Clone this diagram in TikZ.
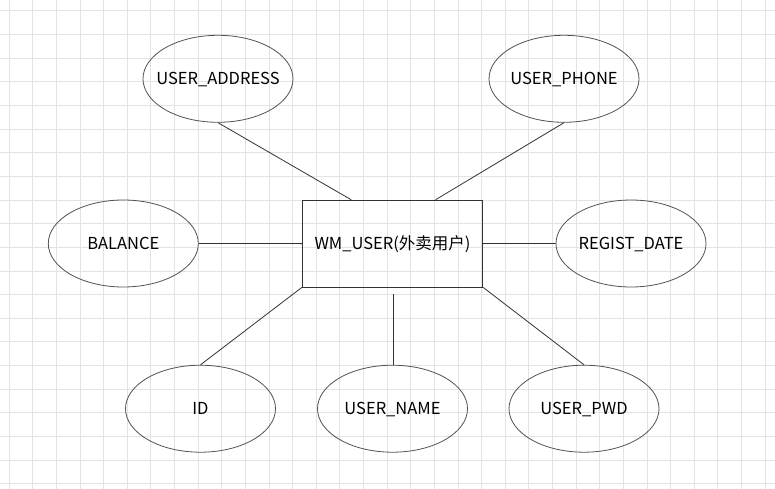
\documentclass[tikz,border=0pt]{standalone}
\usepackage{fontspec}
\setmainfont{Noto Sans CJK SC}
\usetikzlibrary{shapes.geometric}
\definecolor{gridc}{HTML}{E3E3E3}
\definecolor{linec}{HTML}{333333}
\newcommand{\zlabel}[1]{\makebox[0pt]{#1}}
\tikzset{
  attr/.style={ellipse, draw=linec!85, line width=0.8pt, minimum width=150pt, minimum height=87pt, inner sep=0pt, text height=11.5pt, text depth=0pt, font=\fontsize{16.5}{20}\selectfont},
  entity/.style={rectangle, draw=linec, line width=0.9pt, minimum width=180.4pt, minimum height=86.7pt, inner sep=0pt, text height=11.5pt, text depth=0pt, font=\fontsize{16.5}{20}\selectfont},
  conn/.style={draw=linec, line width=0.8pt},
}
\begin{document}
\begin{tikzpicture}[x=1pt,y=-1pt]
\useasboundingbox (0,0) rectangle (775,489);
\fill[white] (0,0) rectangle (775,489);
\foreach \i in {0,...,32} {
  \draw[gridc, line width=0.9pt] (9.2+\i*23.62,0) -- (9.2+\i*23.62,489);
}
\foreach \j in {0,...,20} {
  \draw[gridc, line width=0.9pt] (0,10.8+\j*23.65) -- (775,10.8+\j*23.65);
}
\node[entity] (m) at (392.5,243.6) {WM\_USER(外卖用户)};
\node[attr] (addr) at (218,78.8) {\zlabel{USER\_ADDRESS}};
\node[attr] (phone) at (564,78.8) {\zlabel{USER\_PHONE}};
\node[attr] (bal) at (123.3,243.5) {\zlabel{BALANCE}};
\node[attr] (reg) at (631,243.5) {\zlabel{REGIST\_DATE}};
\node[attr] (id) at (200.5,408.7) {\zlabel{ID}};
\node[attr] (name) at (392.5,408.7) {\zlabel{USER\_NAME}};
\node[attr] (pwd) at (584,408.7) {\zlabel{USER\_PWD}};
\coordinate (nameend) at (393.3,294.3);
\path[conn] (addr.south) -- ([xshift=49.4pt]m.north west);
\path[conn] (phone.south) -- ([xshift=-47.7pt]m.north east);
\path[conn] (bal.east) -- (m.west);
\path[conn] (m.east) -- (reg.west);
\path[conn] (id.north) -- (m.south west);
\path[conn] (m.south east) -- (pwd.north);
\path[conn] (name.north -| nameend) -- (nameend);
\end{tikzpicture}
\end{document}
